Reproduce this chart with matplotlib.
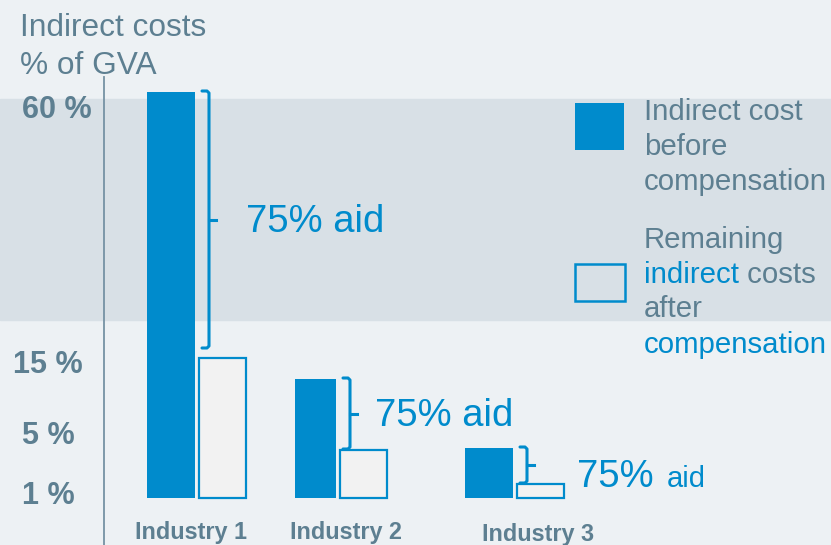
import matplotlib
matplotlib.use("Agg")
import matplotlib.pyplot as plt
from matplotlib.patches import Rectangle

plt.rcParams['font.family'] = ['Liberation Sans', 'DejaVu Sans']

# schematic chart: bar heights (chart units above baseline)
industries = ["Industry 1", "Industry 2", "Industry 3"]
before_cost = [406, 119, 50]
after_cost = [140, 48, 14]
aid_label = "75%"
tick_labels = ["60 %", "15 %", "5 %", "1 %"]
tick_pos = [388, 133, 62, 2]

BLUE = "#008bcc"
GREY = "#5d7f91"
BG = "#edf1f4"
BAND = "#d8e0e6"
AFTER_FILL = "#f2f2f2"

# layout
group_left = [147, 295, 465]
before_w = [48, 41, 48]
after_w = 47
gap = 4
label_x = [191, 346, 538]
label_y = [-35, -35, -36]
text_dx = [37, 25, 50]

fig = plt.figure(figsize=(8.31, 5.45), dpi=100)
fig.patch.set_facecolor(BG)
ax = fig.add_axes([0, 0, 1, 1])
ax.set_facecolor(BG)
ax.set_xlim(0, 831)
ax.set_ylim(-47, 498)
ax.axis("off")

# shaded band
ax.axhspan(178, 399, color=BAND, zorder=0)

# vertical axis line
ax.plot([104, 104], [-47, 421], color="#7692a4", lw=1.3, zorder=1)

# axis title
ax.text(20, 470, "Indirect costs", color=GREY, fontsize=22.8, va="center", ha="left")
ax.text(20, 432, "% of GVA", color=GREY, fontsize=22.8, va="center", ha="left")

# tick labels
for lab, p in zip(tick_labels, tick_pos):
    ax.text(48 if lab != "60 %" else 57, p, lab, color=GREY, fontsize=22,
            fontweight="bold", ha="center", va="center")

for i in range(len(industries)):
    x0 = group_left[i]
    bw = before_w[i]
    ax.bar(x0, before_cost[i], width=bw, align="edge", color=BLUE, zorder=3)
    ax.bar(x0 + bw + gap, after_cost[i], width=after_w, align="edge",
           color=AFTER_FILL, edgecolor=BLUE, linewidth=1.6, zorder=3)

    # bracket
    bx = x0 + bw + 14
    top = before_cost[i] + 1
    bot = after_cost[i] + (10 if i == 0 else 1)
    mid = (top + bot) / 2
    ax.plot([bx - 7, bx - 2, bx, bx, bx - 2, bx - 7],
            [top, top, top - 2, bot + 2, bot, bot],
            color=BLUE, lw=2.2, solid_joinstyle="round", solid_capstyle="round",
            zorder=4)
    ax.plot([bx, bx + 7], [mid, mid], color=BLUE, lw=2.2, zorder=4)

    if i < 2:
        ax.text(bx + text_dx[i], mid - 2, aid_label + " aid", color=BLUE,
                fontsize=27.5, ha="left", va="center")
    else:
        ax.text(bx + text_dx[i], 11, aid_label, color=BLUE,
                fontsize=27.5, ha="left", va="baseline")
        ax.text(bx + text_dx[i] + 90, 11, "aid", color=BLUE,
                fontsize=21, ha="left", va="baseline")

    ax.text(label_x[i], label_y[i], industries[i], color=GREY, fontsize=16.8,
            fontweight="bold", ha="center", va="center")

# legend
ax.add_patch(Rectangle((575, 348), 49, 47, facecolor=BLUE, edgecolor="none"))
ax.add_patch(Rectangle((575, 197), 50, 37, facecolor="none", edgecolor=BLUE, lw=1.8))
for k, line in enumerate(["Indirect cost", "before", "compensation"]):
    ax.text(644, 386 - 35 * k, line, color=GREY, fontsize=21.2, ha="left", va="center")
ax.text(644, 258, "Remaining", color=GREY, fontsize=21.2, ha="left", va="center")
t = ax.text(644, 223, "indirect", color=BLUE, fontsize=21.2, ha="left", va="center")
ax.annotate(" costs", xy=(1, 0), xycoords=t, color=GREY, fontsize=21.2,
            ha="left", va="bottom")
ax.text(644, 189, "after", color=GREY, fontsize=21.2, ha="left", va="center")
ax.text(644, 153, "compensation", color=BLUE, fontsize=21.2, ha="left", va="center")

fig.savefig("out.png", dpi=100, facecolor=BG)
